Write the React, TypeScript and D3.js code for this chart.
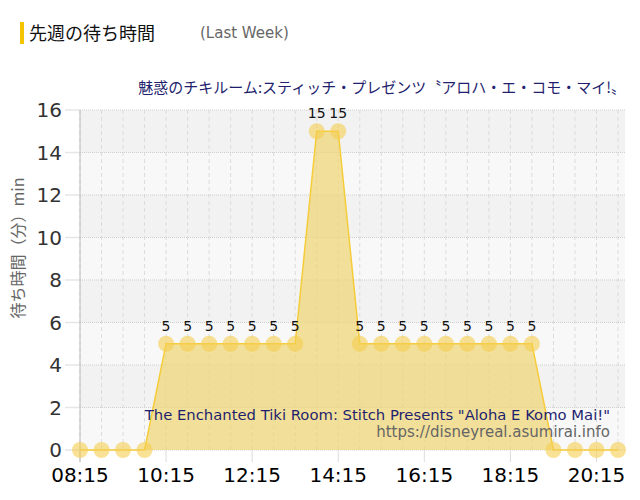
import React from "react";
import * as d3 from "d3";

const times = ["08:15","08:45","09:15","09:45","10:15","10:45","11:15","11:45","12:15","12:45","13:15","13:45","14:15","14:45","15:15","15:45","16:15","16:45","17:15","17:45","18:15","18:45","19:15","19:45","20:15","20:45"];
const waits = [0,0,0,0,5,5,5,5,5,5,5,15,15,5,5,5,5,5,5,5,5,5,0,0,0,0];
const yTicks = [0,2,4,6,8,10,12,14,16];
const xTickLabels = ["08:15","10:15","12:15","14:15","16:15","18:15","20:15"];

const titleJa = "先週の待ち時間";
const titleEn = "(Last Week)";
const subtitleJa = "魅惑のチキルーム:スティッチ・プレゼンツ〝アロハ・エ・コモ・マイ!〟";
const subtitleEn = "The Enchanted Tiki Room: Stitch Presents \"Aloha E Komo Mai!\"";
const credit = "https://disneyreal.asumirai.info";
const yTitle = "待ち時間（分）min";

const FONT = "'DejaVu Sans', 'Noto Sans CJK JP', sans-serif";
const JFONT = "'Noto Sans CJK JP', 'DejaVu Sans', sans-serif";

export default function App() {
  const W = 640, H = 500;
  const left = 80, right = 625, top = 110, bottom = 450;
  const x = d3.scalePoint<string>().domain(times).range([left, 618]);
  const y = d3.scaleLinear().domain([0, 16]).range([bottom, top]);
  const data = times.map((t, i) => ({ t, v: waits[i] }));
  const area = d3.area<{ t: string; v: number }>().x(d => x(d.t)!).y0(y(0)).y1(d => y(d.v));
  const line = d3.line<{ t: string; v: number }>().x(d => x(d.t)!).y(d => y(d.v));

  const bands = yTicks.slice(0, -1).map((v, i) => ({ v0: v, v1: yTicks[i + 1], dark: (yTicks.length - 2 - i) % 2 === 0 }));

  return (
    <svg width={W} height={H} style={{ position: "absolute", left: 0, top: 0 }} fontFamily={FONT}>
      <rect width={W} height={H} fill="#fff" />
      {/* title */}
      <rect x={20} y={22} width={4} height={22} fill="#f5c400" />
      <text x={29} y={40} fontSize={18} fill="#111" fontFamily={JFONT}>{titleJa}</text>
      <text x={200} y={38} fontSize={15} fill="#666">{titleEn}</text>
      <text x={626} y={93} fontSize={15} fill="#1f1f6e" textAnchor="end" fontFamily={JFONT}>{subtitleJa}</text>

      {/* background bands */}
      {bands.map((b, i) => (
        <rect key={i} x={left} y={y(b.v1)} width={right - left} height={y(b.v0) - y(b.v1)} fill={b.dark ? "#f2f2f2" : "#f8f8f8"} />
      ))}
      {/* vertical grid */}
      {times.map(t => (
        <line key={t} x1={x(t)} x2={x(t)} y1={top} y2={bottom} stroke="#dcdcdc" strokeDasharray="4,3" />
      ))}
      {/* horizontal grid */}
      {yTicks.map(v => (
        <g key={v}>
          <line x1={left} x2={right} y1={y(v)} y2={y(v)} stroke="#cfcfcf" strokeDasharray="1,1" />
          <line x1={left - 15} x2={left} y1={y(v)} y2={y(v)} stroke="#e6e6e6" strokeWidth={1.5} />
          <text x={62} y={y(v) + 7} fontSize={20} fill="#333" textAnchor="end">{v}</text>
        </g>
      ))}
      {/* x ticks */}
      {xTickLabels.map(t => (
        <g key={t}>
          <line x1={x(t)} x2={x(t)} y1={bottom} y2={bottom + 12} stroke="#dcdcdc" />
          <text x={x(t)} y={482} fontSize={20} fill="#000" textAnchor="middle">{t}</text>
        </g>
      ))}
      <line x1={left} x2={left} y1={top} y2={bottom + 12} stroke="#bbb" />

      {/* area, line, points */}
      <path d={area(data)!} fill="#f0d470" fillOpacity={0.7} />
      <path d={line(data)!} fill="none" stroke="#f5cc3a" strokeWidth={1.5} />
      {data.map(d => (
        <circle key={d.t} cx={x(d.t)} cy={y(d.v)} r={8} fill="#f5cf50" fillOpacity={0.6} />
      ))}
      {data.filter(d => d.v > 0).map(d => (
        <text key={d.t} x={x(d.t)} y={y(d.v) - 13} fontSize={14} fill="#111" textAnchor="middle">{d.v}</text>
      ))}

      <text x={610} y={420} fontSize={14.8} fill="#1f1f6e" textAnchor="end">{subtitleEn}</text>
      <text x={610} y={437} fontSize={15} fill="#666" textAnchor="end">{credit}</text>

      <text transform={`translate(24,248) rotate(-90)`} fontSize={16} fill="#666" textAnchor="middle" fontFamily={JFONT}>{yTitle}</text>
    </svg>
  );
}
